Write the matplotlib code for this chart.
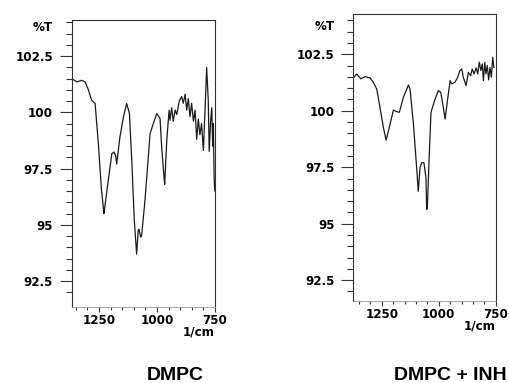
import numpy as np
import matplotlib.pyplot as plt
from matplotlib.ticker import MultipleLocator, FixedLocator

# spectra (wavenumber 1/cm, %T)
wn_dmpc = [1361, 1346, 1325, 1310, 1296, 1282, 1267, 1253, 1240, 1231, 1229, 1214, 1195,
           1185, 1178, 1174, 1160, 1145, 1131, 1119, 1109, 1098, 1088, 1081, 1078, 1070,
           1066, 1052, 1030, 1016, 1001, 987, 980, 970, 967, 958, 948, 944, 937, 930,
           922, 915, 904, 894, 887, 879, 872, 865, 858, 851, 843, 836, 829, 822, 815,
           808, 800, 793, 786, 779, 775, 769, 764, 760, 757, 754, 751]
t_dmpc = [101.45, 101.35, 101.42, 101.35, 101.0, 100.53, 100.39, 98.6, 96.6, 95.7, 95.5,
          96.68, 98.16, 98.23, 98.05, 97.7, 98.9, 99.79, 100.39, 99.94, 97.86, 95.2, 93.7,
          94.75, 94.8, 94.45, 94.55, 96.09, 99.05, 99.5, 99.94, 99.72, 98.46, 97.12, 96.8,
          98.75, 100.09, 99.64, 100.2, 99.6, 100.1, 99.9, 100.5, 100.7, 100.4, 100.8,
          100.1, 100.6, 99.8, 100.4, 99.6, 100.1, 98.8, 99.7, 99.0, 99.5, 98.3, 100.1,
          102.0, 100.5, 98.26, 99.6, 100.2, 98.5, 99.5, 97.2, 96.5]

wn_inh = [1375, 1360, 1342, 1323, 1301, 1287, 1272, 1258, 1243, 1231, 1217, 1199, 1189,
          1173, 1155, 1133, 1126, 1111, 1097, 1090, 1082, 1075, 1065, 1056, 1053, 1050,
          1041, 1034, 1016, 1002, 991, 980, 972, 962, 950, 943, 929, 918, 907, 899, 892,
          880, 870, 860, 853, 845, 836, 829, 822, 815, 809, 804, 798, 793, 787, 781, 775,
          769, 763, 758]
t_inh = [101.45, 101.63, 101.41, 101.51, 101.45, 101.26, 100.96, 100.15, 99.26, 98.7,
         99.26, 100.03, 99.98, 99.93, 100.6, 101.14, 100.96, 99.41, 97.48, 96.44, 97.48,
         97.7, 97.7, 97.03, 95.63, 95.7, 98.2, 99.93, 100.52, 100.89, 100.81, 100.15,
         99.63, 100.44, 101.33, 101.19, 101.26, 101.45, 101.78, 101.85, 101.48, 101.11,
         101.7, 101.55, 101.85, 101.63, 101.9, 101.63, 102.15, 101.78, 102.07, 101.33,
         102.15, 101.63, 102.0, 101.37, 101.92, 101.48, 102.37, 101.92]

titles = ['DMPC', 'DMPC + INH']
x_major = [1250, 1000, 750]
y_major = [92.5, 95, 97.5, 100, 102.5]

W, H = 510, 383
fig = plt.figure(figsize=(W / 100, H / 100), dpi=100)

# axes boxes in pixels: left, right, top, bottom
boxes = [(71.7, 215.0, 20.0, 306.5), (353.3, 495.7, 14.3, 300.5)]
xlims = [(1368, 750), (1375, 750)]
ylims = [(91.37, 104.1), (91.6, 104.27)]
series = [(wn_dmpc, t_dmpc), (wn_inh, t_inh)]
title_x = [175, 450]

tick_font = dict(family='DejaVu Sans', weight='bold', size=8.6)

for i in range(2):
    l, r, t, b = boxes[i]
    ax = fig.add_axes([l / W, 1 - b / H, (r - l) / W, (b - t) / H])
    x, y = series[i]
    ax.plot(x, y, color='#1a1a1a', lw=0.9)
    ax.set_xlim(*xlims[i])
    ax.set_ylim(*ylims[i])

    ax.xaxis.set_major_locator(FixedLocator(x_major))
    ax.xaxis.set_minor_locator(MultipleLocator(50))
    ax.yaxis.set_major_locator(FixedLocator(y_major))
    ax.yaxis.set_minor_locator(FixedLocator(np.arange(92, 104.01, 0.5)))
    ax.set_xticklabels([str(v) for v in x_major], fontdict=tick_font)
    ax.set_yticklabels(['92.5', '95', '97.5', '100', '102.5'], fontdict=tick_font)

    ax.tick_params(axis='y', which='major', length=8.6, width=0.8, pad=4.8, color='#333')
    ax.tick_params(axis='y', which='minor', length=4.3, width=0.8, color='#333')
    ax.tick_params(axis='x', which='major', length=3.6, width=0.8, pad=2, color='#333')
    ax.tick_params(axis='x', which='minor', length=2.2, width=0.8, color='#333')
    for s in ax.spines.values():
        s.set_color('#333')
        s.set_linewidth(0.8)
    ax.spines['bottom'].set_color('#999')
    ax.spines['bottom'].set_linewidth(0.6)

    ax.annotate('%T', xy=(0, 103.75), xycoords=('axes fraction', 'data'),
                xytext=(-13.3, 0), textcoords='offset points',
                ha='right', va='center', **tick_font)
    ax.annotate('1/cm', xy=(1, 0), xycoords='axes fraction',
                xytext=(0, -14), textcoords='offset points',
                ha='right', va='top', **tick_font)

    fig.text(title_x[i] / W, 1 - 376 / H, titles[i], ha='center', va='center',
             family='Liberation Sans', weight='bold', size=14)

fig.savefig('out.png', dpi=100)
